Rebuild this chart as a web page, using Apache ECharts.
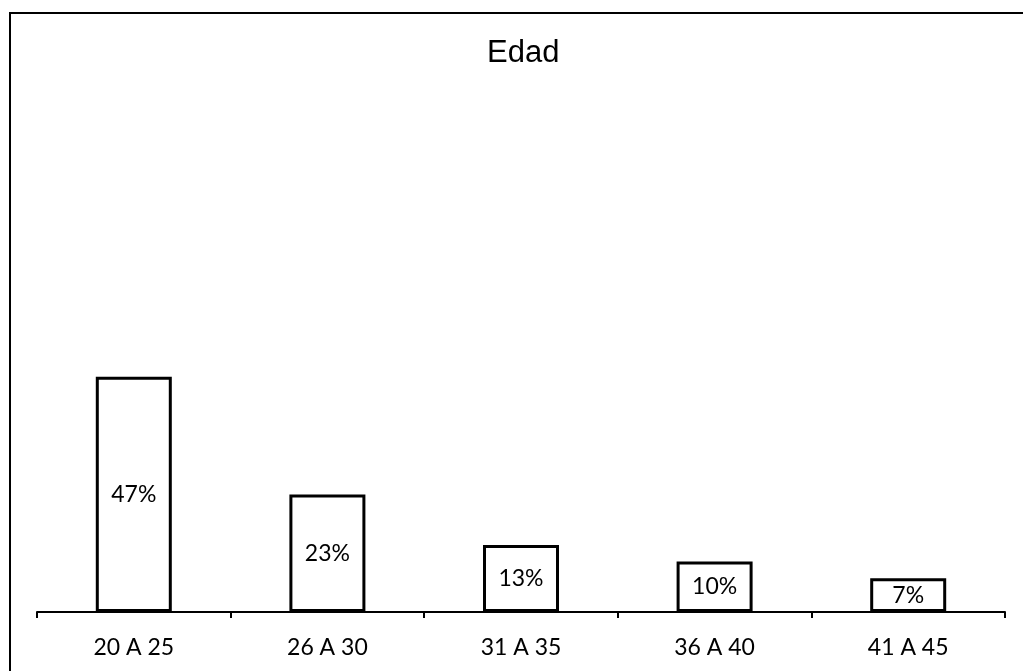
<!DOCTYPE html>
<html>
<head>
<meta charset="utf-8">
<script src="https://cdn.jsdelivr.net/npm/echarts@6/dist/echarts.min.js"></script>
<style>
  html, body { margin: 0; padding: 0; background: #fff; }
  #frame { position: absolute; left: 9px; top: 12px; width: 1100px; height: 700px;
           border-left: 2px solid #000; border-top: 2px solid #000; }
  #chart { position: absolute; left: 0; top: 0; width: 1023px; height: 671px; }
</style>
</head>
<body>
<div id="frame"></div>
<div id="chart"></div>
<script>
const categories = ['20 A 25', '26 A 30', '31 A 35', '36 A 40', '41 A 45'];
const percentValues = [46.7, 23.3, 13.3, 10.0, 6.7];
const percentLabels = ['47%', '23%', '13%', '10%', '7%'];

const chart = echarts.init(document.getElementById('chart'), null, { renderer: 'canvas' });
chart.setOption({
  backgroundColor: 'transparent',
  animation: false,
  title: {
    text: 'Edad',
    left: 482,
    top: 33,
    textStyle: { fontFamily: 'Liberation Sans, Arial, sans-serif', fontSize: 31, fontWeight: 'normal', color: '#000' }
  },
  grid: { left: 37, right: 18, top: 108, bottom: 59, containLabel: false },
  xAxis: {
    type: 'category',
    data: categories,
    boundaryGap: true,
    axisLine: { lineStyle: { color: '#000', width: 2 } },
    axisTick: { show: true, length: 6, lineStyle: { color: '#000', width: 2 } },
    axisLabel: { color: '#000', fontFamily: 'Lato, sans-serif', fontSize: 23, margin: 24 }
  },
  yAxis: {
    type: 'value',
    min: 0,
    max: 100,
    show: false,
    splitLine: { show: false }
  },
  series: [{
    type: 'bar',
    data: percentValues,
    barWidth: 76,
    itemStyle: { color: '#fff', borderColor: '#000', borderWidth: 3 },
    label: {
      show: true,
      position: 'inside',
      color: '#000',
      fontFamily: 'Lato, sans-serif',
      fontSize: 23,
      formatter: p => percentLabels[p.dataIndex]
    }
  }]
});
</script>
</body>
</html>
